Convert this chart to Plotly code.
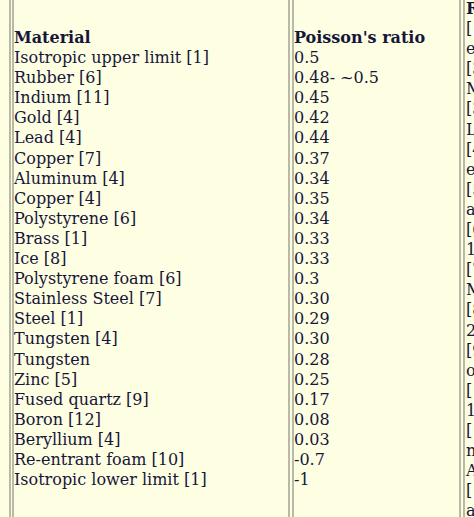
import plotly.graph_objects as go

materials = ["Isotropic upper limit [1]", "Rubber [6]", "Indium [11]", "Gold [4]", "Lead [4]",
             "Copper [7]", "Aluminum [4]", "Copper [4]", "Polystyrene [6]", "Brass [1]", "Ice [8]",
             "Polystyrene foam [6]", "Stainless Steel [7]", "Steel [1]", "Tungsten [4]", "Tungsten",
             "Zinc [5]", "Fused quartz [9]", "Boron [12]", "Beryllium [4]", "Re-entrant foam [10]",
             "Isotropic lower limit [1]"]
ratios = ["0.5", "0.48- ~0.5", "0.45", "0.42", "0.44", "0.37", "0.34", "0.35", "0.34", "0.33", "0.33",
          "0.3", "0.30", "0.29", "0.30", "0.28", "0.25", "0.17", "0.08", "0.03", "-0.7", "-1"]
ref_col = ["[1", "e", "[3", "M", "[3", "L", "[4", "e", "[5", "a", "[6", "1", "[7", "M", "[8", "2",
           "[9", "o", "[1", "1", "[1", "n", "A", "[1", "a"]

ink = "#16163a"
font = "DejaVu Serif"
fs = 16
row_y = [59 + 20.1 * i for i in range(len(materials))]
ref_y = [30 + 20.1 * i for i in range(len(ref_col))]

fig = go.Figure()
fig.add_trace(go.Scatter(x=[14] * len(materials), y=row_y, text=materials, mode="text",
                         textposition="middle right", textfont=dict(family=font, size=fs, color=ink)))
fig.add_trace(go.Scatter(x=[294] * len(ratios), y=row_y, text=ratios, mode="text",
                         textposition="middle right", textfont=dict(family=font, size=fs, color=ink)))
fig.add_trace(go.Scatter(x=[466] * len(ref_col), y=ref_y, text=ref_col, mode="text",
                         textposition="middle right", textfont=dict(family=font, size=fs, color=ink)))
fig.add_trace(go.Scatter(x=[14, 294, 466], y=[39, 39, 10], text=["<b>Material</b>", "<b>Poisson's ratio</b>", "<b>R</b>"],
                         mode="text", textposition="middle right", textfont=dict(family=font, size=fs, color=ink)))

for x0 in [10, 13, 289, 293, 460, 464]:
    fig.add_shape(type="line", x0=x0, x1=x0, y0=0, y1=517, line=dict(color="#8a8a80", width=1.2), layer="above")

fig.update_layout(width=474, height=517, margin=dict(l=0, r=0, t=0, b=0), showlegend=False,
                  paper_bgcolor="#fefee2", plot_bgcolor="#fefee2",
                  xaxis=dict(range=[0, 474], visible=False, fixedrange=True),
                  yaxis=dict(range=[517, 0], visible=False, fixedrange=True))
fig.write_html("out.html", config={"displayModeBar": False})

with open("out.html", encoding="utf-8") as f:
    html = f.read()
html = html.replace("<head>", "<head><style>html,body{margin:0;padding:0;overflow:hidden;background:#fefee2;}</style>", 1)
with open("out.html", "w", encoding="utf-8") as f:
    f.write(html)
